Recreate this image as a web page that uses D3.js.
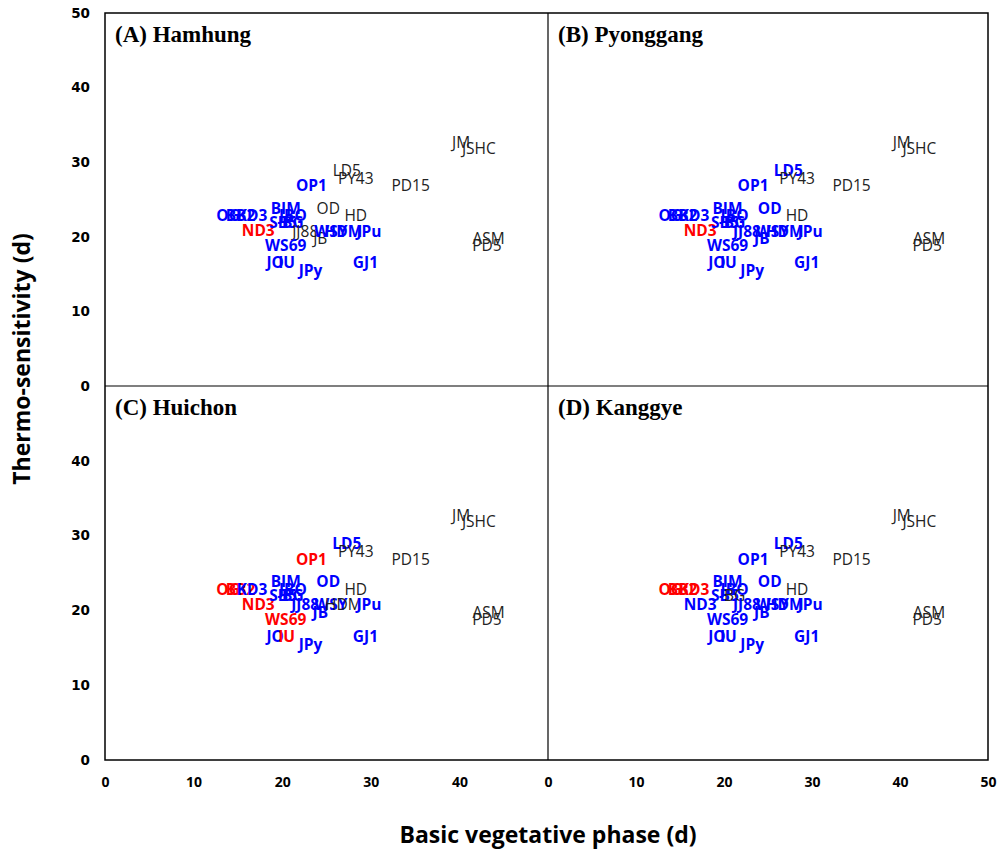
<!DOCTYPE html>
<html>
<head>
<meta charset="utf-8">
<script src="https://cdn.jsdelivr.net/npm/d3@7"></script>
<style>
  body { margin: 0; background: #fff; }
  svg text { font-family: "Open Sans", "Noto Sans", sans-serif; }
</style>
</head>
<body>
<svg width="1000" height="853"></svg>
<script>
// cultivar codes, basic vegetative phase (x) and thermo-sensitivity (y)
const cultivars = ['JM', 'JSHC', 'ASM', 'PD5', 'LD5', 'PY43', 'PD15', 'OP1', 'OD', 'HD',
  'BIM', 'JBO', 'OG', 'BB2', 'KD3', 'ND3', 'SB5', 'BG', 'JJ88', 'JB',
  'WSY', 'HDM', 'JPu', 'WS69', 'JO', 'IU', 'JPy', 'GJ1'];
const bvpDays = [40.2, 42.2, 43.3, 43.1, 27.3, 28.3, 34.5, 23.3, 25.2, 28.3,
  20.4, 21.2, 13.9, 15.3, 16.6, 17.3, 20.1, 21.2, 22.6, 24.3,
  25.5, 26.9, 29.8, 20.4, 19.2, 20.5, 23.2, 29.4];
const thermoDays = [32.7, 31.9, 19.8, 18.9, 29.0, 27.9, 26.9, 26.9, 23.9, 22.9,
  23.9, 22.9, 22.9, 22.9, 22.9, 20.9, 22.0, 22.0, 20.8, 19.8,
  20.8, 20.8, 20.8, 18.9, 16.6, 16.6, 15.5, 16.6];

// label classes per site: k = normal, b = blue, r = red
const hamhungCls   = ['k','k','k','k','k','k','k','b','k','k','b','b','b','b','b','r','b','b','k','k','b','b','b','b','b','b','b','b'];
const pyonggangCls = ['k','k','k','k','b','k','k','b','b','k','b','b','b','b','b','r','b','b','b','b','b','b','b','b','b','b','b','b'];
const huichonCls   = ['k','k','k','k','b','k','k','r','b','k','b','b','r','r','b','r','b','b','b','b','b','k','b','r','b','r','b','b'];
const kanggyeCls   = ['k','k','k','k','b','k','k','b','b','k','b','b','r','r','r','b','b','k','b','b','b','b','b','b','b','b','b','b'];

const panelTitles = ['(A) Hamhung', '(B) Pyonggang', '(C) Huichon', '(D) Kanggye'];
const panelCls = [hamhungCls, pyonggangCls, huichonCls, kanggyeCls];

const svg = d3.select('svg');

const plotLeft = 105, plotMid = 548, plotRight = 988;
const plotTop = 13, plotVMid = 386, plotBottom = 760;

const clsColor = { k: '#222', b: '#0000ff', r: '#ff0000' };

panelTitles.forEach((title, i) => {
  const col = i % 2, row = Math.floor(i / 2);
  const x = d3.scaleLinear().domain([0, 50]).range(col === 0 ? [plotLeft, plotMid] : [plotMid, plotRight]);
  const y = d3.scaleLinear().domain([0, 50]).range(row === 0 ? [plotVMid, plotTop] : [plotBottom, plotVMid]);

  const g = svg.append('g');

  // panel title
  g.append('text')
    .attr('x', x.range()[0] + 10)
    .attr('y', y.range()[1] + 29)
    .style('font-family', '"Liberation Serif", serif')
    .style('font-weight', 'bold')
    .style('font-size', '23px')
    .text(title);

  // data labels
  const cls = panelCls[i];
  g.selectAll('.lbl')
    .data(cultivars.map((c, j) => ({ name: c, bvp: bvpDays[j], ts: thermoDays[j], cls: cls[j] })))
    .join('text')
      .attr('class', 'lbl')
      .attr('x', d => x(d.bvp))
      .attr('y', d => y(d.ts))
      .attr('text-anchor', 'middle')
      .attr('dominant-baseline', 'central')
      .attr('fill', d => clsColor[d.cls])
      .style('font-size', '15.5px')
      .style('font-weight', d => d.cls === 'k' ? 'normal' : 'bold')
      .text(d => d.name);

  // y tick labels (left column only)
  if (col === 0) {
    const yTicks = row === 0 ? [0, 10, 20, 30, 40, 50] : [0, 10, 20, 30, 40];
    const yAxis = d3.axisLeft(y).tickValues(yTicks).tickSize(0).tickPadding(15);
    const ya = svg.append('g').attr('transform', `translate(${plotLeft},0)`).call(yAxis);
    ya.select('.domain').remove();
    ya.selectAll('text')
      .style('font-family', '"DejaVu Sans", sans-serif')
      .style('font-weight', 'bold')
      .style('font-size', '13.5px')
      .attr('fill', '#000');
  }

  // x tick labels (bottom row only)
  if (row === 1) {
    const xTicks = col === 0 ? [0, 10, 20, 30, 40] : [0, 10, 20, 30, 40, 50];
    const xAxis = d3.axisBottom(x).tickValues(xTicks).tickSize(0).tickPadding(17);
    const xa = svg.append('g').attr('transform', `translate(0,${plotBottom})`).call(xAxis);
    xa.select('.domain').remove();
    xa.selectAll('text')
      .style('font-family', '"Open Sans", sans-serif')
      .style('font-weight', 'bold')
      .style('font-size', '14px')
      .attr('fill', '#000');
  }
});

// frame and panel dividers
svg.append('rect')
  .attr('x', plotLeft).attr('y', plotTop)
  .attr('width', plotRight - plotLeft).attr('height', plotBottom - plotTop)
  .attr('fill', 'none').attr('stroke', '#000').attr('stroke-width', 1.5);
svg.append('line')
  .attr('x1', plotMid).attr('x2', plotMid).attr('y1', plotTop).attr('y2', plotBottom)
  .attr('stroke', '#000').attr('stroke-width', 1.2);
svg.append('line')
  .attr('x1', plotLeft).attr('x2', plotRight).attr('y1', plotVMid).attr('y2', plotVMid)
  .attr('stroke', '#000').attr('stroke-width', 1.2);

// axis titles
svg.append('text')
  .attr('transform', `translate(30,${plotVMid - 27}) rotate(-90)`)
  .attr('text-anchor', 'middle')
  .style('font-weight', 'bold')
  .style('font-size', '23px')
  .text('Thermo-sensitivity (d)');

svg.append('text')
  .attr('x', plotMid)
  .attr('y', 843)
  .attr('text-anchor', 'middle')
  .style('font-weight', 'bold')
  .style('font-size', '23px')
  .text('Basic vegetative phase (d)');
</script>
</body>
</html>
